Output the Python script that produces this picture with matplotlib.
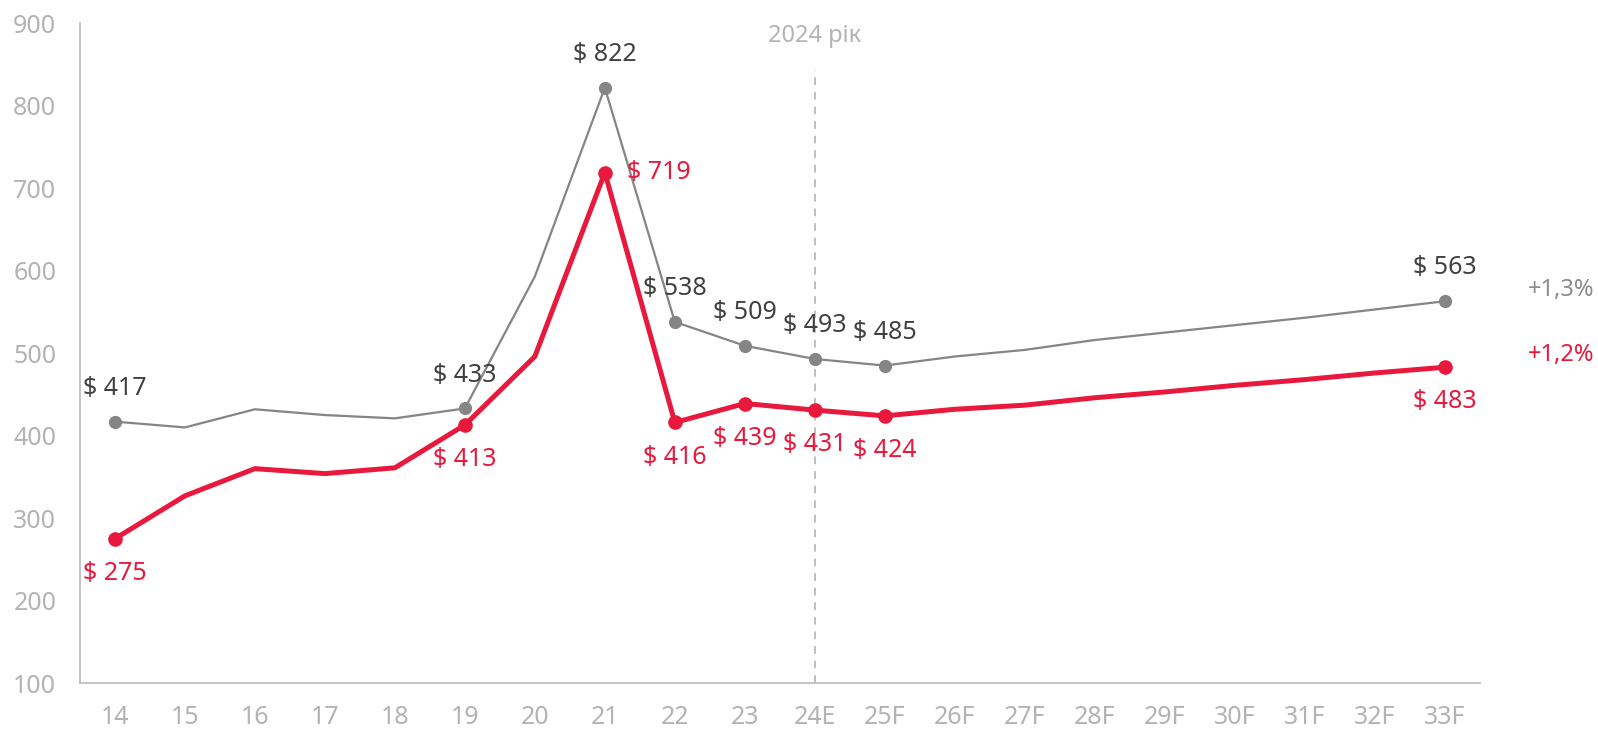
import matplotlib.pyplot as plt

plt.rcParams['font.family'] = ['Noto Sans', 'DejaVu Sans']

# Роки / категорії
years = ['14', '15', '16', '17', '18', '19', '20', '21', '22', '23', '24E',
         '25F', '26F', '27F', '28F', '29F', '30F', '31F', '32F', '33F']

# Сіра лінія (номінальні значення)
gray_vals = [417, 410, 432, 425, 421, 433, 593, 822, 538, 509, 493,
             485, 496, 504, 516, 525, 534, 543, 553, 563]
# Червона лінія (реальні значення)
red_vals = [275, 327, 360, 354, 361, 413, 496, 719, 416, 439, 431,
            424, 432, 437, 446, 453, 461, 468, 476, 483]

# Точки з підписами
labeled = [0, 5, 7, 8, 9, 10, 11, 19]
gray_growth = '+1,3%'
red_growth = '+1,2%'
vline_label = '2024 рік'
vline_idx = 10

RED = '#E8193C'
GRAY = '#858585'
LABEL_DARK = '#404040'
TICK = '#b3b3b3'

fig = plt.figure(figsize=(15.98, 7.29), dpi=100)
ax = fig.add_axes([0.05, 0.063, 0.876, 0.905])

x = list(range(len(years)))

ax.plot(x, gray_vals, color=GRAY, lw=1.6, zorder=3)
ax.plot(x, red_vals, color=RED, lw=3.6, zorder=4)
ax.plot([x[i] for i in labeled], [gray_vals[i] for i in labeled], 'o',
        color=GRAY, ms=8.5, zorder=5)
ax.plot([x[i] for i in labeled], [red_vals[i] for i in labeled], 'o',
        color=RED, ms=9.5, zorder=6)

fs = 18
for i in labeled:
    ax.annotate(f'$ {gray_vals[i]}', (x[i], gray_vals[i]), xytext=(0, 24),
                textcoords='offset points', ha='center', va='center',
                fontsize=fs, color=LABEL_DARK)
    if i == 7:
        ax.annotate(f'$ {red_vals[i]}', (x[i], red_vals[i]), xytext=(16, 0),
                    textcoords='offset points', ha='left', va='center',
                    fontsize=fs, color=RED)
    else:
        ax.annotate(f'$ {red_vals[i]}', (x[i], red_vals[i]), xytext=(0, -25),
                    textcoords='offset points', ha='center', va='center',
                    fontsize=fs, color=RED)

# Темпи зростання справа
ax.annotate(gray_growth, (x[-1], gray_vals[-1]), xytext=(60, 8),
            textcoords='offset points', ha='left', va='center',
            fontsize=fs - 1, color='#8c8c8c', annotation_clip=False)
ax.annotate(red_growth, (x[-1], red_vals[-1]), xytext=(60, 9),
            textcoords='offset points', ha='left', va='center',
            fontsize=fs - 1, color=RED, annotation_clip=False)

# Вертикальна пунктирна лінія 2024
ax.plot([vline_idx, vline_idx], [100, 843], ls=(0, (4, 3.5)), color='#bfbfbf',
        lw=1.4, zorder=1)
ax.text(vline_idx, 885, vline_label, ha='center', va='center', fontsize=fs - 1,
        color=TICK, clip_on=False)

ax.set_xlim(-0.5, 19.5)
ax.set_ylim(100, 900)
ax.set_xticks(x)
ax.set_xticklabels(years)
ax.set_yticks(range(100, 901, 100))

for side in ['top', 'right']:
    ax.spines[side].set_visible(False)
for side in ['left', 'bottom']:
    ax.spines[side].set_color('#bfbfbf')
    ax.spines[side].set_linewidth(1.3)

ax.tick_params(axis='both', length=0, labelsize=fs, labelcolor=TICK)
ax.tick_params(axis='y', pad=17)
ax.tick_params(axis='x', pad=16)

fig.savefig('out.png', dpi=100)
